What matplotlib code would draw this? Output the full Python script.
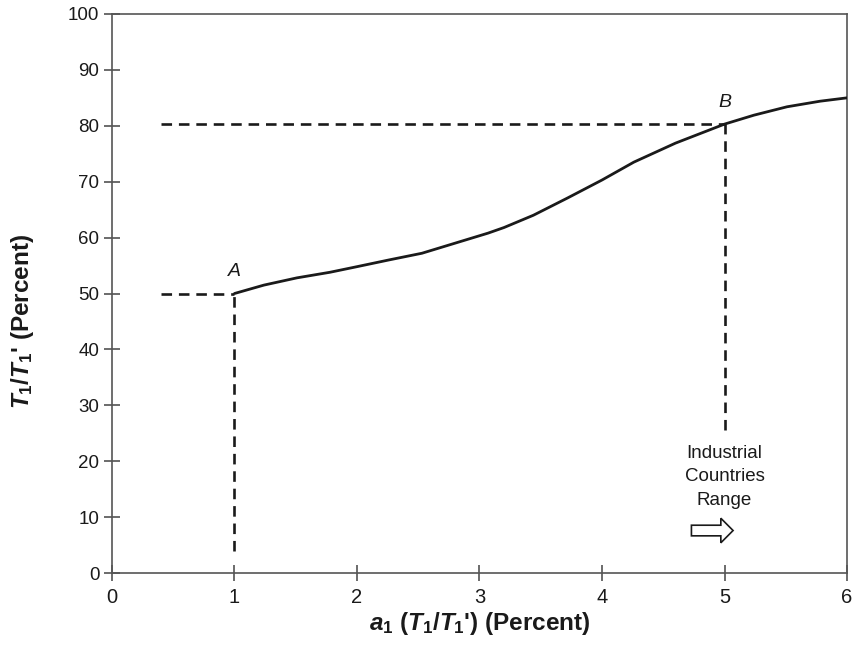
import matplotlib
matplotlib.use("Agg")
import matplotlib.pyplot as plt
from matplotlib.patches import FancyArrow

# data
curve_x = [1.0, 1.24, 1.51, 1.78, 2.0, 2.26, 2.53, 2.8, 3.07, 3.2, 3.44, 3.72, 4.0, 4.26, 4.6, 5.0, 5.24, 5.51, 5.78, 6.0]
curve_y = [50.0, 51.5, 52.8, 53.8, 54.8, 56.0, 57.2, 59.0, 60.8, 61.8, 64.0, 67.1, 70.3, 73.5, 76.9, 80.3, 81.9, 83.4, 84.4, 85.0]
point_a = (1.0, 50.0)
point_b = (5.0, 80.4)
guide_start_x = 0.4
guide_a_bottom = 4.0
guide_b_bottom = 25.5
x_ticks = [0, 1, 2, 3, 4, 5, 6]
y_ticks = [0, 10, 20, 30, 40, 50, 60, 70, 80, 90, 100]

FONT = 'Liberation Sans'
plt.rcParams['mathtext.fontset'] = 'custom'
plt.rcParams['mathtext.rm'] = FONT + ':bold'
plt.rcParams['mathtext.it'] = FONT + ':italic:bold'
plt.rcParams['mathtext.bf'] = FONT + ':bold'

fig = plt.figure(figsize=(8.56, 6.51), dpi=100)
ax = fig.add_axes([0.1308, 0.1198, 0.9895 - 0.1308, 0.9785 - 0.1198])

ax.plot(curve_x, curve_y, color='#1a1a1a', lw=2.0, solid_capstyle='round',
        solid_joinstyle='round', zorder=3)

dash = dict(color='#1a1a1a', lw=1.9, linestyle=(0, (4, 2.6)))
ax.plot([guide_start_x, point_a[0]], [point_a[1], point_a[1]], **dash)
ax.plot([point_a[0], point_a[0]], [guide_a_bottom, point_a[1]], **dash)
ax.plot([guide_start_x, point_b[0]], [point_b[1], point_b[1]], **dash)
ax.plot([point_b[0], point_b[0]], [guide_b_bottom, point_b[1]], **dash)

ax.text(1.0, 52.4, 'A', style='italic', fontsize=14, ha='center', va='bottom',
        family=FONT, color='#1a1a1a')
ax.text(5.0, 82.6, 'B', style='italic', fontsize=14, ha='center', va='bottom',
        family=FONT, color='#1a1a1a')

ax.text(5.0, 17.2, 'Industrial\nCountries\nRange', ha='center', va='center',
        fontsize=13.5, family=FONT, color='#1a1a1a', linespacing=1.5)

arrow = FancyArrow(4.73, 7.6, 0.24, 0, width=1.9, head_width=4.4, head_length=0.1,
                   length_includes_head=False, facecolor='white', edgecolor='#1a1a1a', lw=1.2)
ax.add_patch(arrow)

ax.set_xlim(0, 6)
ax.set_ylim(0, 100)
ax.set_xticks(x_ticks)
ax.set_yticks(y_ticks)
ax.set_xticklabels([str(v) for v in x_ticks], family=FONT, fontsize=14.5)
ax.set_yticklabels([str(v) for v in y_ticks], family=FONT, fontsize=13.5)
ax.tick_params(axis='x', direction='inout', length=12, width=1.1, color='#444444', pad=5, labelcolor='#1a1a1a')
ax.tick_params(axis='y', direction='inout', length=12, width=1.1, color='#444444', pad=3, labelcolor='#1a1a1a')
for s in ax.spines.values():
    s.set_color('#555555')
    s.set_linewidth(1.2)

ax.set_xlabel(r"$\mathit{a}_\mathbf{1}$ $\mathbf{(}\mathit{T}_\mathbf{1}\mathbf{/}\mathit{T}_\mathbf{1}$'$\mathbf{)}$ (Percent)",
              family=FONT, fontweight='bold', fontsize=17.5, color='#1a1a1a')
ax.set_ylabel(r"$\mathit{T}_\mathbf{1}\mathbf{/}\mathit{T}_\mathbf{1}$' (Percent)",
              family=FONT, fontweight='bold', fontsize=17.5, color='#1a1a1a')
ax.xaxis.set_label_coords(0.5, -0.066)
ax.yaxis.set_label_coords(-0.104, 0.45)

fig.savefig('out.png', dpi=100)
